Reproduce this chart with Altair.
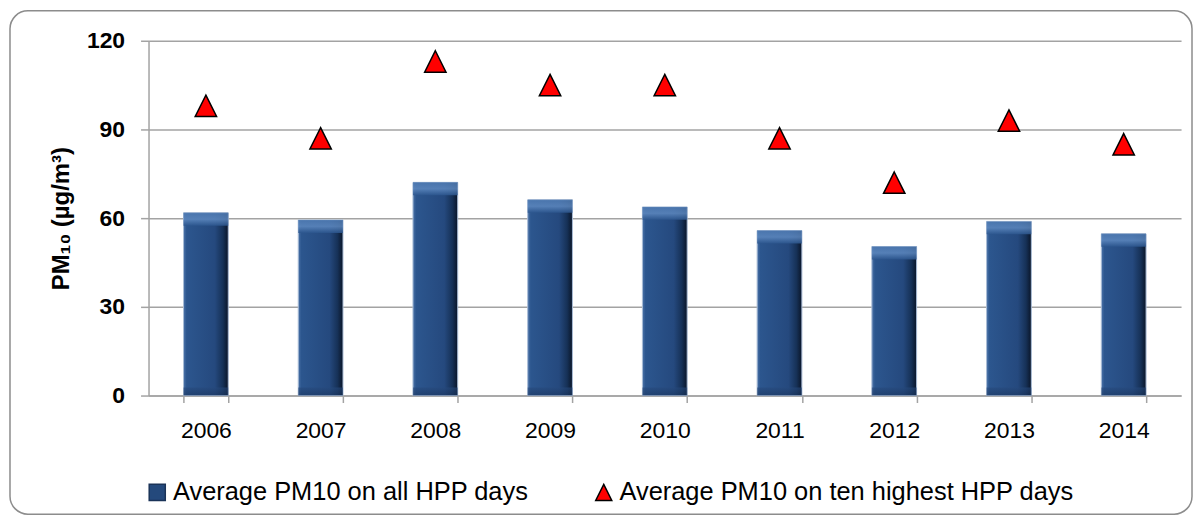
import altair as alt
import pandas as pd

years = ["2006", "2007", "2008", "2009", "2010", "2011", "2012", "2013", "2014"]
avg_all_days = [61.8, 59.4, 72.1, 66.2, 63.8, 55.8, 50.4, 58.9, 54.7]
avg_top10_days = [98, 87, 113, 105, 105, 87, 72, 93, 85]
series_names = ["Average PM10 on all HPP days", "Average PM10 on ten highest HPP days"]
y_ticks = [0, 30, 60, 90, 120]

df_bar = pd.DataFrame({"year": years, "value": avg_all_days, "series": series_names[0]})
df_tri = pd.DataFrame({"year": years, "value": avg_top10_days, "series": series_names[1]})

FONT = "Liberation Sans"
W, H = 1036, 356
GRID = "#a3a3a3"
TRI = "M0,-1L1,1L-1,1Z"

x_enc = alt.X(
    "year:N", sort=years, title=None,
    scale=alt.Scale(paddingInner=0.61, paddingOuter=0.305),
    axis=alt.Axis(labelAngle=0, labelFont=FONT, labelFontSize=23, labelColor="black",
                  labelPadding=17, tickBand="extent", tickSize=7, tickColor=GRID,
                  tickWidth=1.5, domainColor=GRID, domainWidth=1.5, grid=False),
)
y_enc = alt.Y(
    "value:Q", scale=alt.Scale(domain=[0, 120]),
    title="PM₁₀ (µg/m³)",
    axis=alt.Axis(values=y_ticks, labelFont=FONT, labelFontSize=23, labelFontWeight="bold",
                  labelColor="black", labelPadding=16, tickSize=8, tickColor=GRID, tickWidth=1.5,
                  domainColor=GRID, domainWidth=1.5, gridColor=GRID, gridWidth=1.5,
                  titleFont=FONT, titleFontSize=24, titleFontWeight="bold", titleColor="black",
                  titleAngle=270, titleX=-87, titleY=178, titleAlign="center",
                  titleBaseline="middle"),
)

border = alt.Chart(alt.Data(values=[{"k": 1}])).mark_rect(
    filled=False, stroke="#8c8c8c", strokeWidth=1.5, cornerRadius=18
).encode(x=alt.value(-139), x2=alt.value(1047), y=alt.value(-30), y2=alt.value(475))

bar_grad = alt.LinearGradient(
    gradient="linear", x1=0, x2=1, y1=0, y2=0,
    stops=[alt.GradientStop(offset=0, color="#4a72a8"),
           alt.GradientStop(offset=0.07, color="#2c568e"),
           alt.GradientStop(offset=0.7, color="#25497e"),
           alt.GradientStop(offset=0.88, color="#163157"),
           alt.GradientStop(offset=1, color="#0a1528")],
)
top_grad = alt.LinearGradient(
    gradient="linear", x1=0, x2=0, y1=0, y2=1,
    stops=[alt.GradientStop(offset=0, color="#4f7bb3"),
           alt.GradientStop(offset=0.5, color="#5d88bf"),
           alt.GradientStop(offset=1, color="#2c568e")],
)
bot_grad = alt.LinearGradient(
    gradient="linear", x1=0, x2=0, y1=0, y2=1,
    stops=[alt.GradientStop(offset=0, color="#26497c"),
           alt.GradientStop(offset=1, color="#1a355e")],
)

bars = alt.Chart(df_bar).mark_bar(fill=bar_grad, stroke="#a9bcd6", strokeWidth=1).encode(
    x=x_enc, y=y_enc
)
bars_top = alt.Chart(df_bar).mark_bar(fill=top_grad, y2Offset=13, opacity=0.85).encode(
    x=alt.X("year:N", sort=years), y=alt.Y("value:Q"), y2=alt.Y2("value")
)
bars_bot = alt.Chart(df_bar).mark_bar(fill=bot_grad, y2Offset=-8, opacity=0.6).encode(
    x=alt.X("year:N", sort=years), y=alt.datum(0), y2=alt.datum(0)
)

leg = alt.Legend(title=None, orient="none", legendX=-4, legendY=440, direction="horizontal",
                 columns=2, columnPadding=62, labelFont=FONT, labelFontSize=25.5,
                 labelColor="black", labelOffset=3, symbolSize=260, symbolStrokeWidth=1.5,
                 labelLimit=600)

tris = alt.Chart(df_tri).mark_point(filled=True, size=460, strokeWidth=1.5, opacity=1).encode(
    x=alt.X("year:N", sort=years),
    y=alt.Y("value:Q"),
    fill=alt.Fill("series:N", scale=alt.Scale(domain=series_names, range=["#24497c", "#ff0000"]), legend=leg),
    stroke=alt.Stroke("series:N", scale=alt.Scale(domain=series_names, range=["#1a3358", "#000000"]), legend=leg),
    shape=alt.Shape("series:N", scale=alt.Scale(domain=series_names, range=["square", TRI]), legend=leg),
)

chart = alt.layer(border, bars, bars_top, bars_bot, tris).properties(
    width=W, height=H,
    padding={"left": 141, "top": 32, "right": 14, "bottom": 120},
    autosize=alt.AutoSizeParams(type="none"),
    background="white",
).configure_view(strokeWidth=0)

chart.save("out.html", embed_options={"renderer": "svg", "actions": False})
